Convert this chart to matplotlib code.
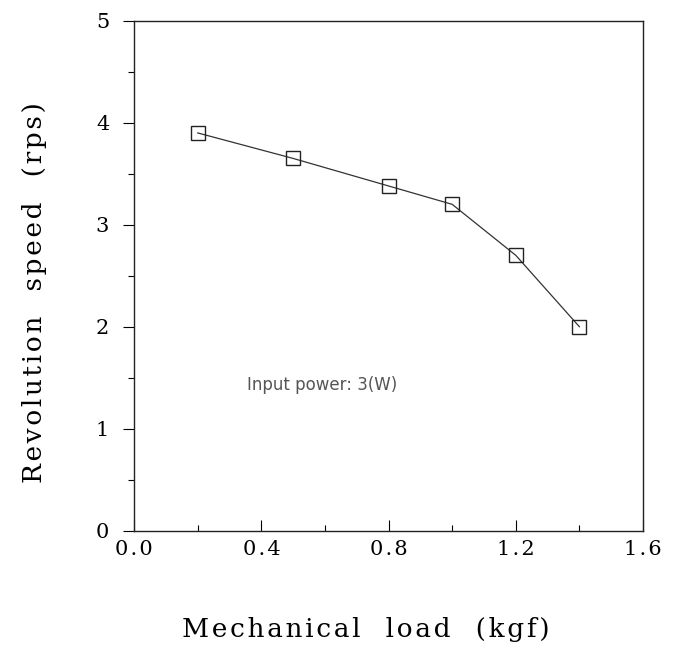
import matplotlib
matplotlib.use("Agg")
import matplotlib.pyplot as plt
from matplotlib.ticker import MultipleLocator

# data
load = [0.2, 0.5, 0.8, 1.0, 1.2, 1.4]
speed = [3.9, 3.65, 3.38, 3.2, 2.7, 2.0]
x_ticks = [0.0, 0.4, 0.8, 1.2, 1.6]
y_ticks = [0, 1, 2, 3, 4, 5]
x_title = "Mechanical load (kgf)"
y_title = "Revolution speed (rps)"

HS = "\u200a"  # hair space, the old plot has wide letter spacing


def spaced(s, gap="  "):
    return HS.join(s).replace(HS + " " + HS, gap)


fig = plt.figure(figsize=(6.74, 6.48), dpi=100)
ax = fig.add_axes([0.199, 0.181, 0.755, 0.787])

ax.plot(load, speed, color="#333333", lw=0.9, marker="s", markersize=10,
        markerfacecolor="none", markeredgecolor="#222222", markeredgewidth=1.0)

ax.text(0.59, 1.43, "Input power: 3(W)", fontsize=12, color="#555555",
        family="DejaVu Sans", ha="center", va="center")

ax.set_xlim(0, 1.6)
ax.set_ylim(0, 5)
ax.set_xticks(x_ticks)
ax.set_yticks(y_ticks)
ax.set_xticklabels([spaced("%.1f" % v) for v in x_ticks])
ax.xaxis.set_minor_locator(MultipleLocator(0.2))
ax.yaxis.set_minor_locator(MultipleLocator(0.5))
ax.tick_params(axis="x", which="both", direction="in", pad=7)
ax.tick_params(axis="y", which="both", direction="out", pad=10)
ax.tick_params(which="major", length=8, width=0.8)
ax.tick_params(which="minor", length=4, width=0.8)

for lbl in ax.get_xticklabels() + ax.get_yticklabels():
    lbl.set_family("DejaVu Serif")
    lbl.set_fontsize(15)

for s in ax.spines.values():
    s.set_linewidth(1.0)
    s.set_color("#222222")

ax.set_xlabel(spaced(x_title, "   "), family="DejaVu Serif", fontsize=19,
              va="center")
ax.set_ylabel(spaced(y_title, "   "), family="DejaVu Serif", fontsize=19,
              va="center")
ax.xaxis.set_label_coords(0.455, -0.194)
ax.yaxis.set_label_coords(-0.196, 0.467)

fig.savefig("out.png", dpi=100)
